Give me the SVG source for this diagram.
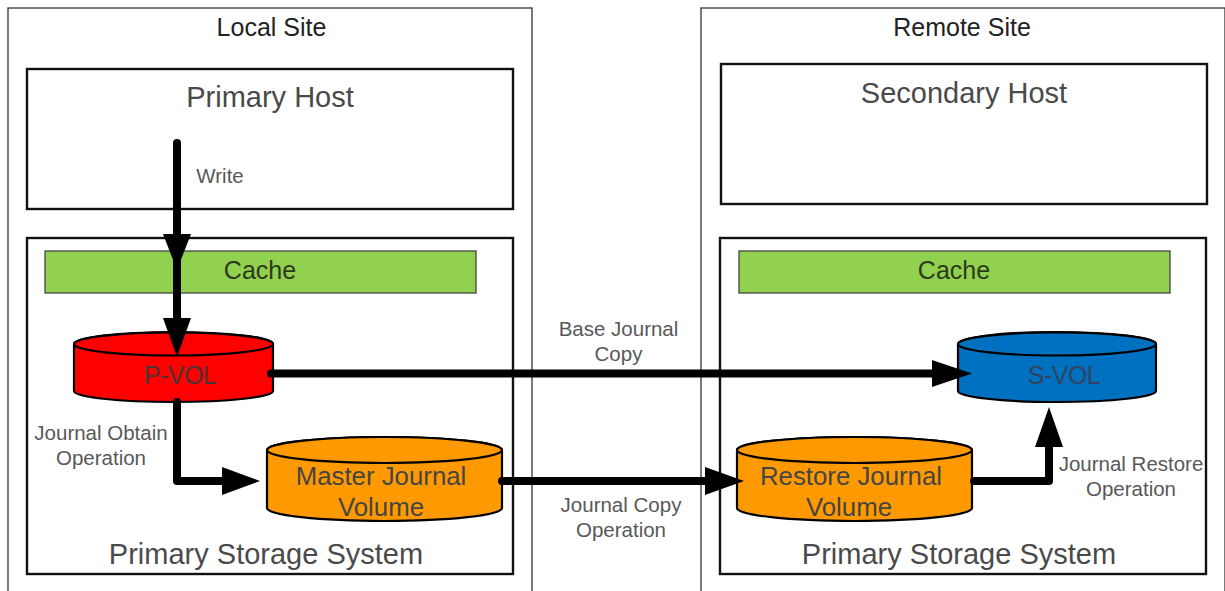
<svg xmlns="http://www.w3.org/2000/svg" width="1225" height="591" viewBox="0 0 1225 591">
<defs>
<style>
text{font-family:"Liberation Sans",Arial,sans-serif;fill:#4a4a4a;text-anchor:middle}
.site{fill:#fff;stroke:#333;stroke-width:1.3}
.box{fill:#fff;stroke:#111;stroke-width:2.4}
.cache{fill:#92d050;stroke:#444;stroke-width:1.3}
.cyl{stroke:#000;stroke-width:2.2}
.lg{font-size:29px}
.md{font-size:25.800px;fill:#454545}
.vol{font-size:25px;fill:#4a3535;letter-spacing:-0.5px}
.sm{font-size:20.500px;fill:#585858}
.tt{font-size:25px;fill:#222}
.c{font-size:25px;fill:#2c3a1c}
.conn{fill:none;stroke:#000;stroke-width:8;stroke-linejoin:round;stroke-linecap:round}
.head{fill:#000}
</style>
</defs>
<g id="local-site"><rect class="site" x="8" y="8" width="524" height="600"/><text class="tt" x="271.500" y="36">Local Site</text></g>
<g id="remote-site"><rect class="site" x="701" y="8" width="524" height="600"/><text class="tt" x="962" y="36">Remote Site</text></g>
<g id="primary-host"><rect class="box" x="27" y="69" width="486" height="140"/><text class="lg" x="270" y="107">Primary Host</text></g>
<g id="secondary-host"><rect class="box" x="721" y="64" width="486" height="140"/><text class="lg" x="964" y="103">Secondary Host</text></g>
<g id="storage-local"><rect class="box" x="27" y="238" width="486" height="336"/><text class="lg" x="266" y="564">Primary Storage System</text></g>
<g id="storage-remote"><rect class="box" x="720" y="238" width="486" height="336"/><text class="lg" x="959" y="564">Primary Storage System</text></g>
<g id="cache-local"><rect class="cache" x="45" y="251" width="431" height="42"/><text class="c" x="260" y="279">Cache</text></g>
<g id="cache-remote"><rect class="cache" x="739" y="251" width="431" height="42"/><text class="c" x="954" y="279">Cache</text></g>
<g id="p-vol"><path class="cyl" fill="#ff0000" d="M74 344A99.500 12 0 0 1 273 344V391A99.500 11 0 0 1 74 391Z"/><ellipse class="cyl" fill="#ff0000" cx="173.500" cy="344" rx="99.500" ry="11.500"/><text class="vol" x="180" y="384">P-VOL</text></g>
<g id="s-vol"><path class="cyl" fill="#0070c0" d="M958 344A99 12 0 0 1 1156 344V391A99 11 0 0 1 958 391Z"/><ellipse class="cyl" fill="#0070c0" cx="1057" cy="344" rx="99" ry="11.500"/><text class="vol" style="fill:#2f4660" x="1064" y="384">S-VOL</text></g>
<g id="master-journal"><path class="cyl" fill="#ff9900" d="M267 450A117.500 13 0 0 1 502 450V508A117.500 13 0 0 1 267 508Z"/><ellipse class="cyl" fill="#ff9900" cx="384.500" cy="450" rx="117.500" ry="13"/><text class="md" x="381" y="485">Master Journal</text><text class="md" x="381" y="516">Volume</text></g>
<g id="restore-journal"><path class="cyl" fill="#ff9900" d="M737 450A117.500 13 0 0 1 972 450V508A117.500 13 0 0 1 737 508Z"/><ellipse class="cyl" fill="#ff9900" cx="854.500" cy="450" rx="117.500" ry="13"/><text class="md" x="851" y="485">Restore Journal</text><text class="md" x="849" y="516">Volume</text></g>
<g id="connectors">
<path class="conn" d="M177 143V270"/><path class="head" d="M163 234H191L177 270Z"/>
<path class="conn" d="M177 270V320"/><path class="head" d="M163 318H191L177 357Z"/>
<path class="conn" d="M271 373.500H935"/><path class="head" d="M932 360L972 373.500L932 387Z"/>
<path class="conn" d="M177 402V481H225"/><path class="head" d="M222 467L260 481L222 495Z"/>
<path class="conn" d="M502 481H708"/><path class="head" d="M705 467L744 481L705 495Z"/>
<path class="conn" d="M974 481H1049V445"/><path class="head" d="M1035 447L1049 407L1063 447Z"/>
</g>
<g id="labels">
<text class="sm" x="220" y="183">Write</text>
<text class="sm" x="618.500" y="336">Base Journal</text><text class="sm" x="618.500" y="361">Copy</text>
<text class="sm" x="101" y="440">Journal Obtain</text><text class="sm" x="101" y="465">Operation</text>
<text class="sm" x="621" y="512">Journal Copy</text><text class="sm" x="621" y="537">Operation</text>
<text class="sm" x="1131" y="471">Journal Restore</text><text class="sm" x="1131" y="496">Operation</text>
</g>
</svg>
